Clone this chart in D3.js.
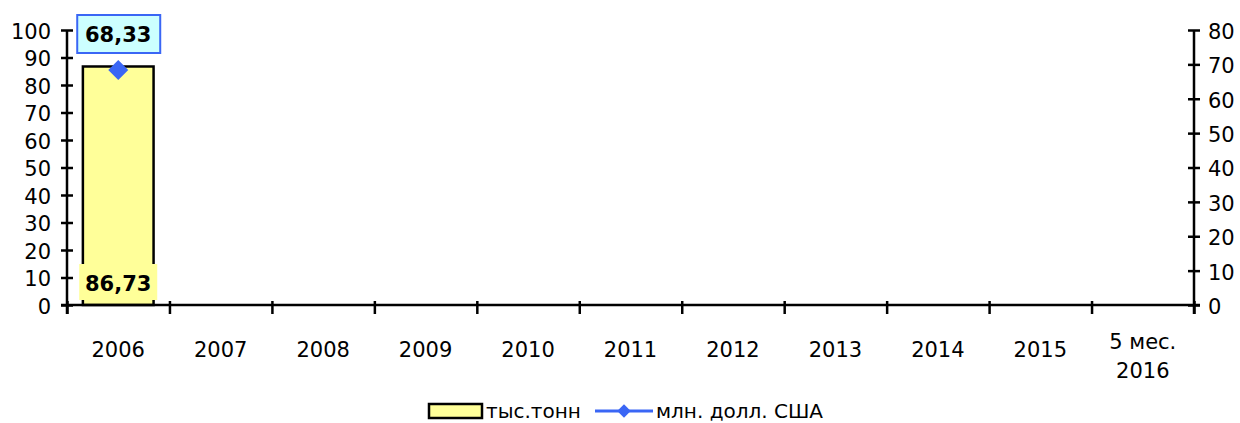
<!DOCTYPE html>
<html>
<head>
<meta charset="utf-8">
<script src="https://cdn.jsdelivr.net/npm/d3@7"></script>
<style>
  body { margin: 0; background: #fff; }
  svg text { font-family: 'DejaVu Sans', Verdana, sans-serif; fill: #000; }
</style>
</head>
<body>
<div class="container"></div>
<script>
const categories = ['2006', '2007', '2008', '2009', '2010', '2011', '2012', '2013', '2014', '2015', '5 мес. 2016'];
const tonnes = [86.73, null, null, null, null, null, null, null, null, null, null];
const usd = [68.33, null, null, null, null, null, null, null, null, null, null];
const leftTicks = [0, 10, 20, 30, 40, 50, 60, 70, 80, 90, 100];
const rightTicks = [0, 10, 20, 30, 40, 50, 60, 70, 80];
const seriesNames = ['тыс.тонн', 'млн. долл. США'];

const width = 1240;
const height = 423;
const plotLeft = 67;
const plotRight = 1194;
const plotTop = 30;
const plotBottom = 305;

const barFill = '#ffff99';
const lineColor = '#3a66f5';
const fmt = v => v.toFixed(2).replace('.', ',');

const svg = d3
  .select('.container')
  .append('svg')
  .attr('width', width)
  .attr('height', height);

const x = d3.scaleBand().domain(categories).range([plotLeft, plotRight]).padding(0);
const xb = d3.scaleLinear().domain([0, categories.length]).range([plotLeft, plotRight]);
const yL = d3.scaleLinear().domain([0, 100]).range([plotBottom, plotTop]);
const yR = d3.scaleLinear().domain([0, 80]).range([plotBottom, plotTop]);

// bars
const barW = x.bandwidth() * 0.69;
const barData = categories.map((c, i) => ({ key: c, value: tonnes[i] })).filter(d => d.value != null);

svg
  .append('g')
  .selectAll('rect')
  .data(barData)
  .enter()
  .append('rect')
  .attr('x', d => x(d.key) + (x.bandwidth() - barW) / 2)
  .attr('width', barW)
  .attr('y', d => yL(d.value))
  .attr('height', d => yL(0) - yL(d.value))
  .attr('fill', barFill)
  .attr('stroke', '#000')
  .attr('stroke-width', 2.5);

// left axis
const gL = svg
  .append('g')
  .attr('transform', `translate(${plotLeft},0)`)
  .call(d3.axisLeft(yL).tickValues(leftTicks).tickSize(6).tickPadding(10));
gL.selectAll('.tick line').attr('x1', 6).attr('stroke-width', 2.5);
gL.select('.domain').attr('d', `M0,${plotTop}V${plotBottom + 9}`).attr('stroke-width', 2.5);
gL.selectAll('.tick text').style('font-size', '21px').attr('dy', '0.4em');

// right axis
const gR = svg
  .append('g')
  .attr('transform', `translate(${plotRight},0)`)
  .call(d3.axisRight(yR).tickValues(rightTicks).tickSize(6).tickPadding(8));
gR.selectAll('.tick line').attr('x1', -6).attr('stroke-width', 2.5);
gR.select('.domain').attr('d', `M0,${plotTop}V${plotBottom + 9}`).attr('stroke-width', 2.5);
gR.selectAll('.tick text').style('font-size', '21px').attr('dy', '0.4em');

// x axis: boundary ticks
const gX = svg
  .append('g')
  .attr('transform', `translate(0,${plotBottom})`)
  .call(d3.axisBottom(xb).tickValues(d3.range(0, categories.length + 1)).tickFormat('').tickSize(9));
gX.selectAll('.tick line').attr('y1', -4).attr('stroke-width', 2.5);
gX.select('.domain').attr('d', `M${plotLeft - 6},0H${plotRight + 6}`).attr('stroke-width', 2.5);

// x axis: category labels
const gXL = svg
  .append('g')
  .attr('transform', `translate(0,${plotBottom})`)
  .call(d3.axisBottom(x).tickSize(0).tickPadding(0));
gXL.select('.domain').remove();
gXL.selectAll('.tick text').style('font-size', '21px').attr('dy', null).each(function(d) {
  const t = d3.select(this);
  const i = d.lastIndexOf(' ');
  if (i > 0) {
    t.text(null).attr('y', 44);
    t.append('tspan').attr('x', 0).text(d.slice(0, i));
    t.append('tspan').attr('x', 0).attr('dy', 29).text(d.slice(i + 1));
  } else {
    t.attr('y', 52);
  }
});

// line series
const pts = categories.map((c, i) => ({ key: c, value: usd[i] })).filter(d => d.value != null);
const cx = d => x(d.key) + x.bandwidth() / 2;

svg
  .append('path')
  .datum(pts)
  .attr('fill', 'none')
  .attr('stroke', lineColor)
  .attr('stroke-width', 3)
  .attr('d', d3.line().x(cx).y(d => yR(d.value)));

svg
  .append('g')
  .selectAll('path')
  .data(pts)
  .enter()
  .append('path')
  .attr('d', d3.symbol().type(d3.symbolSquare).size(200))
  .attr('transform', d => `translate(${cx(d)},${yR(d.value)}) rotate(45)`)
  .attr('fill', lineColor);

// value labels
const usdLabels = svg.append('g').selectAll('g').data(pts).enter().append('g');
usdLabels
  .append('rect')
  .attr('x', d => cx(d) - 41)
  .attr('y', 15)
  .attr('width', 83)
  .attr('height', 38)
  .attr('fill', '#ccffff')
  .attr('stroke', lineColor)
  .attr('stroke-width', 2);
usdLabels
  .append('text')
  .attr('x', d => cx(d))
  .attr('y', 42)
  .attr('text-anchor', 'middle')
  .style('font-size', '21px')
  .style('font-weight', 'bold')
  .text(d => fmt(d.value));

const tonLabels = svg.append('g').selectAll('g').data(barData).enter().append('g');
tonLabels
  .append('rect')
  .attr('x', d => cx(d) - 39)
  .attr('y', plotBottom - 41)
  .attr('width', 78)
  .attr('height', 36)
  .attr('fill', barFill);
tonLabels
  .append('text')
  .attr('x', d => cx(d))
  .attr('y', plotBottom - 14)
  .attr('text-anchor', 'middle')
  .style('font-size', '21px')
  .style('font-weight', 'bold')
  .text(d => fmt(d.value));

// legend
const legend = svg.append('g').attr('transform', 'translate(0,411)');
legend
  .append('rect')
  .attr('x', 429)
  .attr('y', -7)
  .attr('width', 53)
  .attr('height', 14)
  .attr('fill', barFill)
  .attr('stroke', '#000')
  .attr('stroke-width', 2.5);
legend
  .append('text')
  .attr('x', 486)
  .attr('y', 7)
  .style('font-size', '20px')
  .text(seriesNames[0]);
legend
  .append('line')
  .attr('x1', 595)
  .attr('x2', 653)
  .attr('stroke', lineColor)
  .attr('stroke-width', 3);
legend
  .append('path')
  .attr('d', d3.symbol().type(d3.symbolSquare).size(90))
  .attr('transform', 'translate(624,0) rotate(45)')
  .attr('fill', lineColor);
legend
  .append('text')
  .attr('x', 656)
  .attr('y', 7)
  .style('font-size', '20px')
  .text(seriesNames[1]);
</script>
</body>
</html>
